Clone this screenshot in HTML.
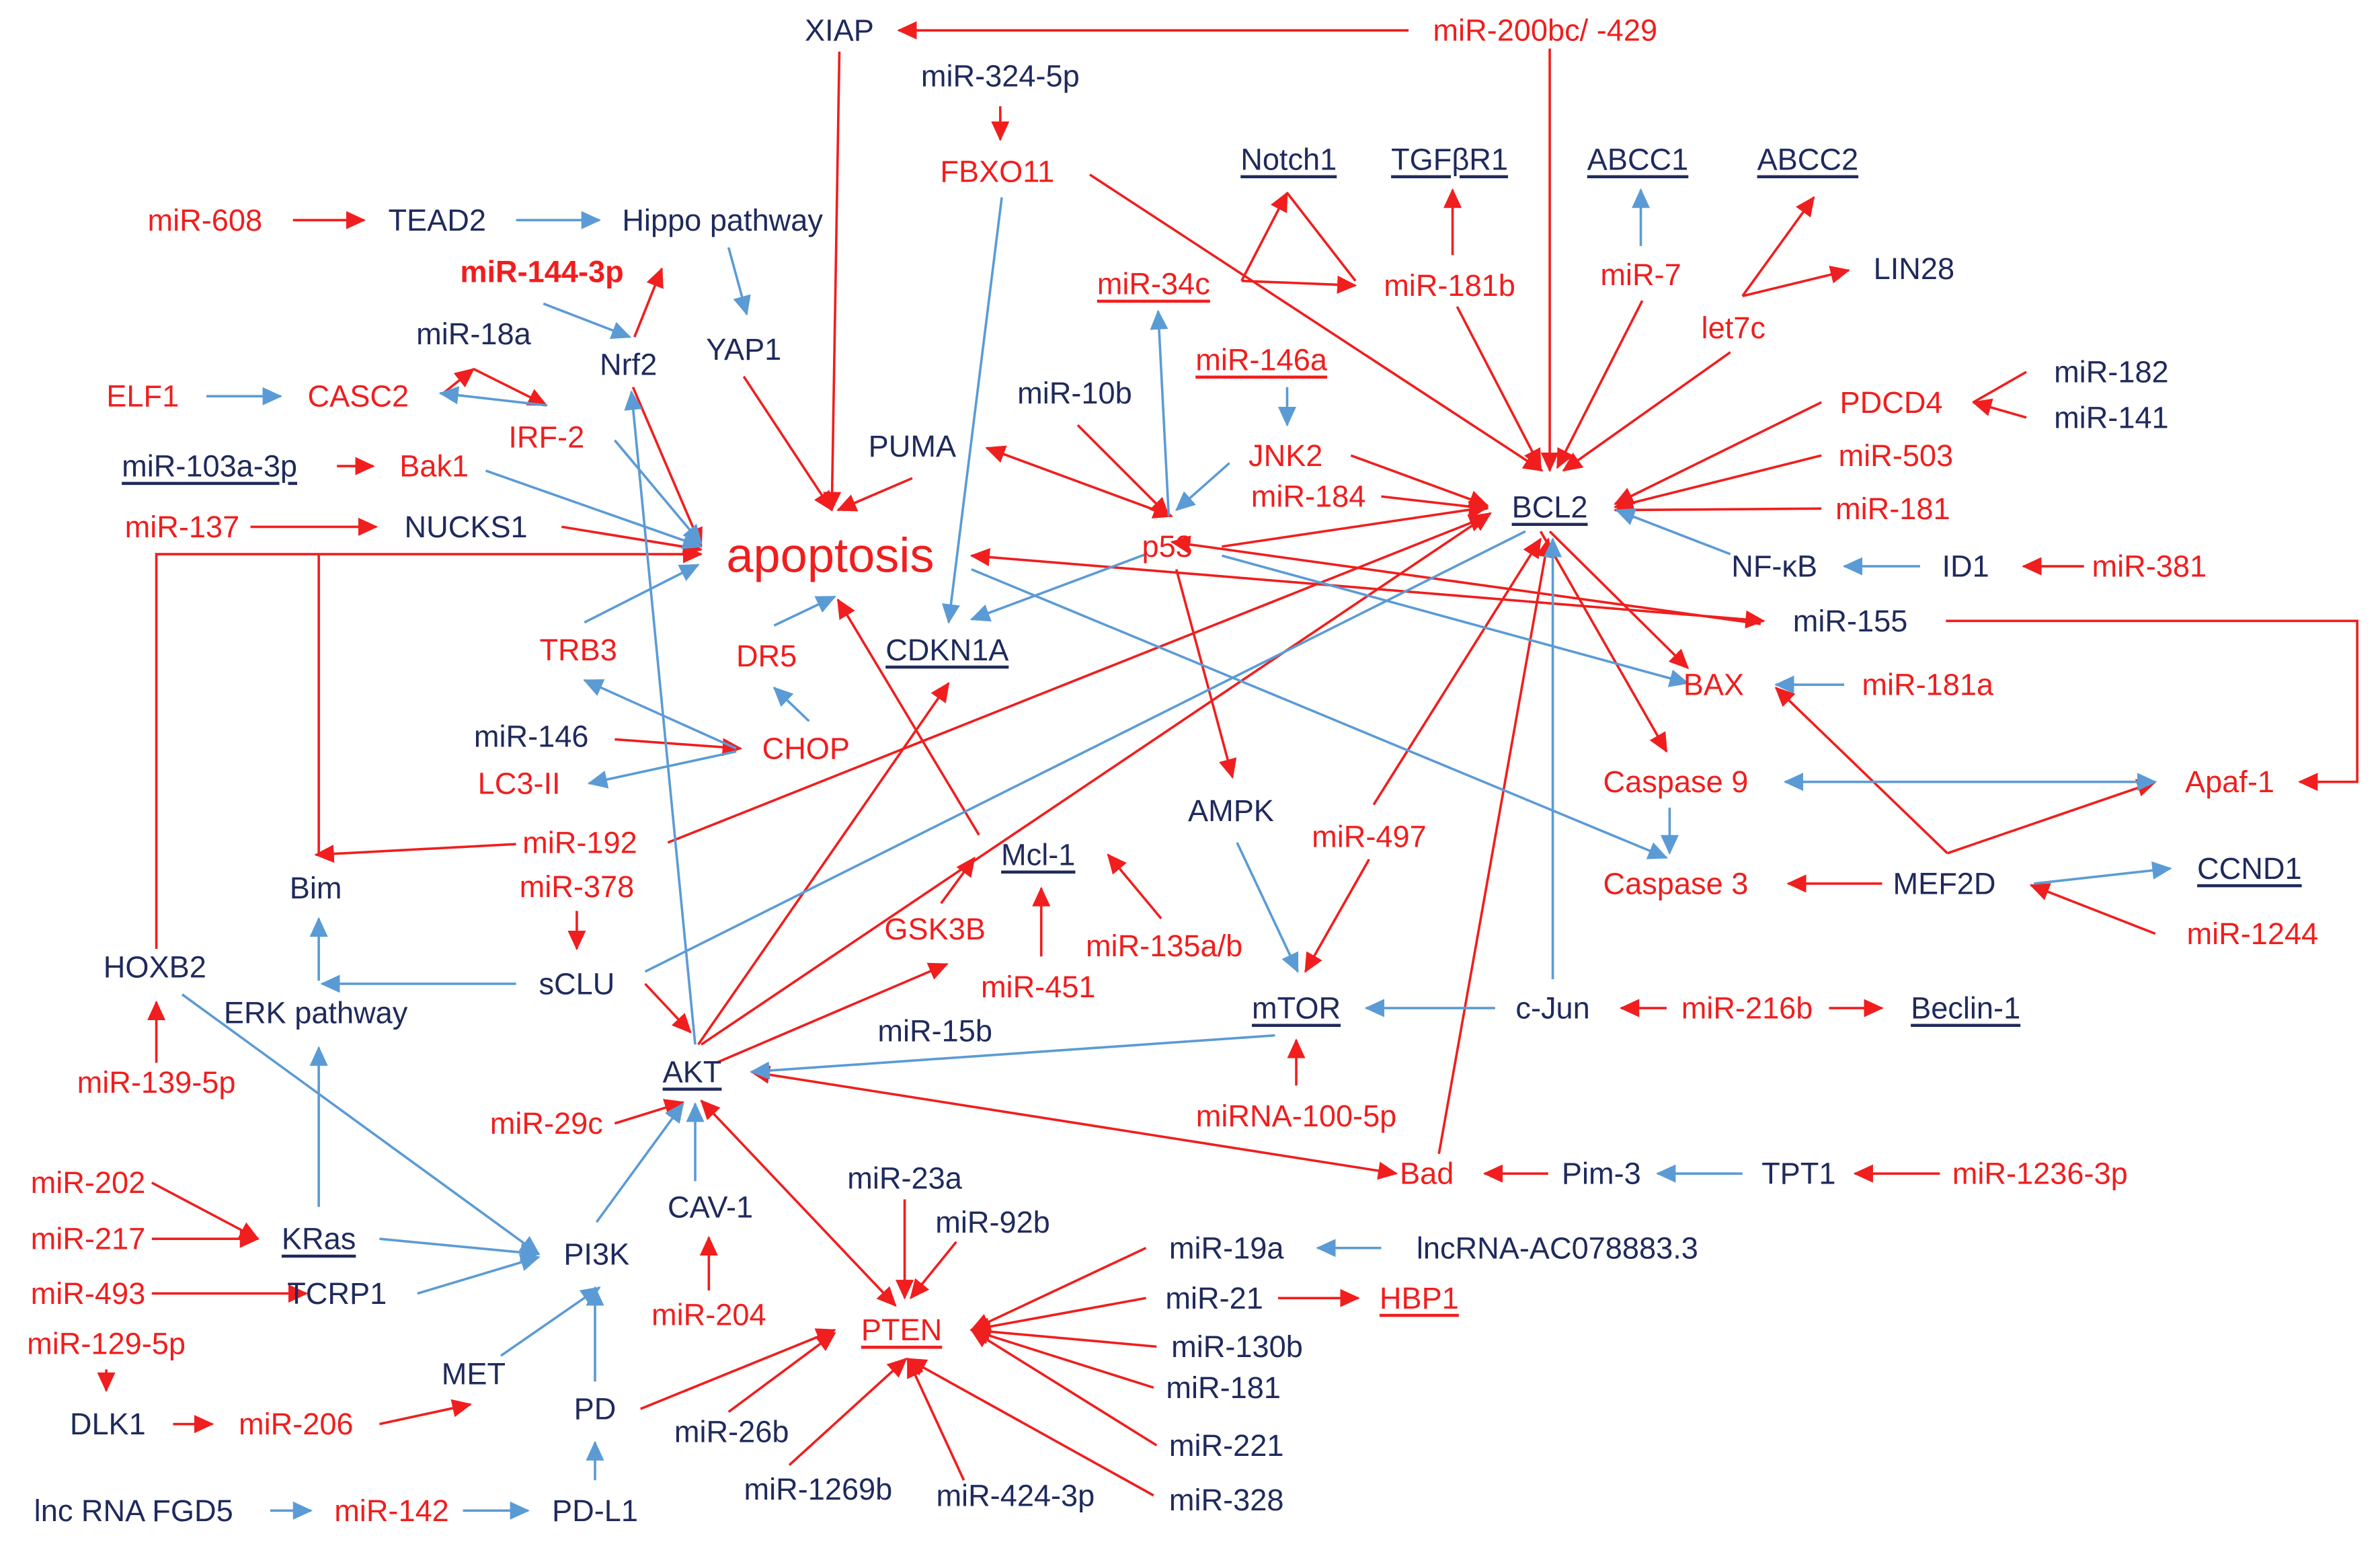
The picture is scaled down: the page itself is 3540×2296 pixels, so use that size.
<!DOCTYPE html>
<html><head><meta charset="utf-8"><style>
html,body{margin:0;padding:0;background:#fff}
svg{display:block}
text{font-family:"Liberation Sans",Arial,sans-serif;font-size:20px;text-anchor:middle;dominant-baseline:central}
.n{fill:#1f2a5c}.r{fill:#f01e1e}.u{text-decoration:underline}
line.R,polyline.R{stroke:#f01e1e;stroke-width:1.6;fill:none;marker-end:url(#mr)}
line.B,polyline.B{stroke:#5b9bd5;stroke-width:1.6;fill:none;marker-end:url(#mb)}
line.RR{stroke:#f01e1e;stroke-width:1.6;marker-end:url(#mr);marker-start:url(#mr)}
line.BB{stroke:#5b9bd5;stroke-width:1.6;marker-end:url(#mb);marker-start:url(#mb)}
line.r0,polyline.r0{stroke:#f01e1e;stroke-width:1.6;fill:none}
line.b0{stroke:#5b9bd5;stroke-width:1.6}
</style></head><body>
<svg width="3540" height="2296" viewBox="0 0 1568 1017" xmlns="http://www.w3.org/2000/svg">
<defs>
<marker id="mr" markerUnits="userSpaceOnUse" markerWidth="14" markerHeight="12" refX="12" refY="6" orient="auto-start-reverse"><path d="M0,0 L13,6 L0,12 z" fill="#f01e1e"/></marker>
<marker id="mb" markerUnits="userSpaceOnUse" markerWidth="14" markerHeight="12" refX="12" refY="6" orient="auto-start-reverse"><path d="M0,0 L13,6 L0,12 z" fill="#5b9bd5"/></marker>
</defs>
<!-- red edges -->
<line class="R" x1="928" y1="20" x2="592" y2="20"/>
<line class="R" x1="553" y1="34" x2="548" y2="336"/>
<line class="R" x1="1021" y1="32" x2="1021" y2="310"/>
<line class="R" x1="659" y1="70" x2="659" y2="92"/>
<line class="R" x1="718" y1="115" x2="1016" y2="310"/>
<line class="R" x1="193" y1="145" x2="240" y2="145"/>
<line class="R" x1="818" y1="185" x2="848" y2="127"/>
<line class="r0" x1="848" y1="127" x2="893" y2="185"/>
<line class="R" x1="818" y1="185" x2="893" y2="188"/>
<line class="R" x1="957" y1="168" x2="957" y2="125"/>
<line class="R" x1="960" y1="202" x2="1015" y2="308"/>
<line class="R" x1="1082" y1="198" x2="1026" y2="308"/>
<line class="R" x1="1148" y1="195" x2="1195" y2="130"/>
<line class="R" x1="1148" y1="195" x2="1218" y2="178"/>
<line class="R" x1="1140" y1="232" x2="1030" y2="310"/>
<line class="R" x1="418" y1="222" x2="436" y2="177"/>
<line class="R" x1="417" y1="255" x2="462" y2="360"/>
<line class="R" x1="292" y1="259" x2="312" y2="243"/>
<line class="R" x1="312" y1="243" x2="360" y2="267"/>
<line class="R" x1="222" y1="307" x2="246" y2="307"/>
<line class="R" x1="165" y1="347" x2="248" y2="347"/>
<line class="R" x1="370" y1="347" x2="462" y2="362"/>
<polyline class="R" points="103,625 103,365 462,365"/>
<polyline class="r0" points="210,365 210,563"/>
<line class="R" x1="340" y1="556" x2="208" y2="563"/>
<line class="R" x1="490" y1="248" x2="548" y2="336"/>
<line class="R" x1="601" y1="315" x2="552" y2="336"/>
<line class="R" x1="710" y1="280" x2="770" y2="340"/>
<line class="RR" x1="650" y1="295" x2="772" y2="340"/>
<line class="R" x1="890" y1="300" x2="980" y2="333"/>
<line class="R" x1="910" y1="327" x2="980" y2="335"/>
<line class="R" x1="1200" y1="265" x2="1064" y2="332"/>
<line class="R" x1="1200" y1="300" x2="1064" y2="334"/>
<line class="R" x1="1200" y1="335" x2="1064" y2="336"/>
<line class="r0" x1="1335" y1="245" x2="1300" y2="265"/>
<line class="R" x1="1335" y1="275" x2="1300" y2="265"/>
<line class="R" x1="1373" y1="373" x2="1333" y2="373"/>
<line class="R" x1="805" y1="360" x2="980" y2="334"/>
<line class="R" x1="775" y1="375" x2="812" y2="512"/>
<line class="RR" x1="1162" y1="409" x2="640" y2="366"/>
<line class="R" x1="1160" y1="411" x2="772" y2="357"/>
<polyline class="R" points="1282,409 1553,409 1553,515 1515,515"/>
<line class="R" x1="1021" y1="350" x2="1112" y2="440"/>
<line class="R" x1="1015" y1="350" x2="1098" y2="495"/>
<line class="R" x1="905" y1="530" x2="1015" y2="355"/>
<line class="R" x1="902" y1="566" x2="860" y2="640"/>
<line class="R" x1="948" y1="760" x2="1020" y2="355"/>
<line class="R" x1="440" y1="555" x2="980" y2="340"/>
<line class="R" x1="460" y1="688" x2="625" y2="450"/>
<line class="R" x1="462" y1="688" x2="982" y2="338"/>
<line class="R" x1="425" y1="648" x2="455" y2="680"/>
<line class="R" x1="472" y1="700" x2="624" y2="635"/>
<line class="R" x1="620" y1="595" x2="642" y2="565"/>
<line class="R" x1="686" y1="630" x2="686" y2="585"/>
<line class="R" x1="765" y1="605" x2="730" y2="563"/>
<line class="R" x1="645" y1="550" x2="552" y2="395"/>
<line class="RR" x1="495" y1="706" x2="920" y2="773"/>
<line class="RR" x1="462" y1="725" x2="590" y2="860"/>
<line class="R" x1="405" y1="740" x2="450" y2="726"/>
<line class="R" x1="467" y1="850" x2="467" y2="815"/>
<line class="R" x1="755" y1="822" x2="640" y2="876"/>
<line class="R" x1="755" y1="855" x2="640" y2="876"/>
<line class="R" x1="762" y1="887" x2="640" y2="876"/>
<line class="R" x1="760" y1="914" x2="640" y2="876"/>
<line class="R" x1="762" y1="952" x2="640" y2="876"/>
<line class="R" x1="760" y1="985" x2="598" y2="895"/>
<line class="R" x1="635" y1="975" x2="598" y2="895"/>
<line class="R" x1="520" y1="965" x2="597" y2="895"/>
<line class="R" x1="480" y1="930" x2="550" y2="878"/>
<line class="R" x1="422" y1="928" x2="550" y2="876"/>
<line class="R" x1="596" y1="790" x2="596" y2="855"/>
<line class="R" x1="630" y1="818" x2="600" y2="855"/>
<line class="R" x1="842" y1="855" x2="895" y2="855"/>
<line class="R" x1="854" y1="715" x2="854" y2="685"/>
<line class="R" x1="1098" y1="664" x2="1068" y2="664"/>
<line class="R" x1="1205" y1="664" x2="1240" y2="664"/>
<line class="R" x1="1020" y1="773" x2="978" y2="773"/>
<line class="R" x1="1278" y1="773" x2="1222" y2="773"/>
<line class="R" x1="1240" y1="582" x2="1178" y2="582"/>
<line class="R" x1="1283" y1="562" x2="1170" y2="453"/>
<line class="R" x1="1283" y1="562" x2="1420" y2="515"/>
<line class="R" x1="1420" y1="615" x2="1338" y2="583"/>
<line class="R" x1="380" y1="600" x2="380" y2="625"/>
<line class="R" x1="103" y1="700" x2="103" y2="660"/>
<line class="R" x1="100" y1="779" x2="170" y2="816"/>
<line class="R" x1="100" y1="816" x2="170" y2="816"/>
<line class="R" x1="100" y1="852" x2="202" y2="852"/>
<line class="R" x1="70" y1="902" x2="70" y2="916"/>
<line class="R" x1="114" y1="938" x2="140" y2="938"/>
<line class="R" x1="250" y1="938" x2="310" y2="925"/>
<line class="R" x1="405" y1="487" x2="488" y2="493"/>
<!-- blue edges -->
<line class="B" x1="1148" y1="773" x2="1092" y2="773"/>
<line class="B" x1="1081" y1="162" x2="1081" y2="125"/>
<line class="B" x1="485" y1="493" x2="385" y2="448"/>
<line class="B" x1="485" y1="495" x2="388" y2="516"/>
<line class="B" x1="533" y1="475" x2="510" y2="453"/>
<line class="B" x1="178" y1="995" x2="205" y2="995"/>
<line class="B" x1="305" y1="995" x2="348" y2="995"/>
<line class="B" x1="340" y1="145" x2="395" y2="145"/>
<line class="B" x1="480" y1="163" x2="492" y2="207"/>
<line class="B" x1="358" y1="200" x2="415" y2="222"/>
<line class="B" x1="360" y1="267" x2="290" y2="259"/>
<line class="B" x1="136" y1="261" x2="185" y2="261"/>
<line class="B" x1="320" y1="310" x2="462" y2="360"/>
<line class="B" x1="405" y1="290" x2="462" y2="358"/>
<line class="B" x1="458" y1="688" x2="416" y2="258"/>
<line class="B" x1="660" y1="130" x2="625" y2="410"/>
<line class="B" x1="770" y1="340" x2="763" y2="205"/>
<line class="B" x1="848" y1="255" x2="848" y2="280"/>
<line class="B" x1="810" y1="305" x2="775" y2="336"/>
<line class="B" x1="755" y1="365" x2="640" y2="408"/>
<line class="B" x1="805" y1="366" x2="1112" y2="450"/>
<line class="B" x1="640" y1="375" x2="1098" y2="565"/>
<line class="B" x1="1140" y1="365" x2="1065" y2="336"/>
<line class="B" x1="1265" y1="373" x2="1215" y2="373"/>
<line class="B" x1="1215" y1="451" x2="1170" y2="451"/>
<line class="B" x1="1100" y1="532" x2="1100" y2="562"/>
<line class="BB" x1="1176" y1="515" x2="1420" y2="515"/>
<line class="B" x1="1340" y1="582" x2="1430" y2="572"/>
<line class="B" x1="1023" y1="645" x2="1023" y2="355"/>
<line class="B" x1="985" y1="664" x2="900" y2="664"/>
<line class="B" x1="815" y1="555" x2="855" y2="640"/>
<line class="B" x1="840" y1="682" x2="495" y2="706"/>
<line class="b0" x1="425" y1="640" x2="1005" y2="350"/>
<line class="B" x1="340" y1="648" x2="212" y2="648"/>
<line class="B" x1="210" y1="646" x2="210" y2="605"/>
<line class="B" x1="210" y1="795" x2="210" y2="690"/>
<line class="B" x1="120" y1="655" x2="355" y2="826"/>
<line class="B" x1="250" y1="816" x2="355" y2="826"/>
<line class="B" x1="275" y1="852" x2="355" y2="828"/>
<line class="B" x1="393" y1="805" x2="450" y2="727"/>
<line class="B" x1="458" y1="778" x2="458" y2="727"/>
<line class="B" x1="330" y1="893" x2="395" y2="848"/>
<line class="B" x1="392" y1="910" x2="392" y2="848"/>
<line class="B" x1="392" y1="975" x2="392" y2="950"/>
<line class="B" x1="910" y1="822" x2="868" y2="822"/>
<line class="B" x1="510" y1="412" x2="550" y2="393"/>
<line class="B" x1="385" y1="410" x2="460" y2="372"/>
<!-- nodes -->
<text class="n" x="553" y="20">XIAP</text>
<text class="r" x="1018" y="20">miR-200bc/ -429</text>
<text class="n" x="659" y="50">miR-324-5p</text>
<text class="r" x="657" y="113">FBXO11</text>
<text class="n u" x="849" y="105">Notch1</text>
<text class="n u" x="955" y="105">TGFβR1</text>
<text class="n u" x="1079" y="105">ABCC1</text>
<text class="n u" x="1191" y="105">ABCC2</text>
<text class="r" x="135" y="145">miR-608</text>
<text class="n" x="288" y="145">TEAD2</text>
<text class="n" x="476" y="145">Hippo pathway</text>
<text class="r" x="357" y="179" font-weight="bold">miR-144-3p</text>
<text class="r u" x="760" y="187">miR-34c</text>
<text class="r" x="955" y="188">miR-181b</text>
<text class="r" x="1081" y="181">miR-7</text>
<text class="n" x="1261" y="177">LIN28</text>
<text class="r" x="1142" y="216">let7c</text>
<text class="n" x="312" y="220">miR-18a</text>
<text class="n" x="414" y="240">Nrf2</text>
<text class="n" x="490" y="230">YAP1</text>
<text class="r u" x="831" y="237">miR-146a</text>
<text class="n" x="708" y="259">miR-10b</text>
<text class="r" x="94" y="261">ELF1</text>
<text class="r" x="236" y="261">CASC2</text>
<text class="r" x="360" y="288">IRF-2</text>
<text class="r" x="1246" y="265">PDCD4</text>
<text class="n" x="1391" y="245">miR-182</text>
<text class="n" x="1391" y="275">miR-141</text>
<text class="n" x="601" y="294">PUMA</text>
<text class="r" x="847" y="300">JNK2</text>
<text class="r" x="1249" y="300">miR-503</text>
<text class="n u" x="138" y="307">miR-103a-3p</text>
<text class="r" x="286" y="307">Bak1</text>
<text class="r" x="862" y="327">miR-184</text>
<text class="n u" x="1021" y="334">BCL2</text>
<text class="r" x="1247" y="335">miR-181</text>
<text class="r" x="120" y="347">miR-137</text>
<text class="n" x="307" y="347">NUCKS1</text>
<text class="r" x="547" y="366" style="font-size:32px">apoptosis</text>
<text class="r" x="769" y="360">p53</text>
<text class="n" x="1169" y="373">NF-κB</text>
<text class="n" x="1295" y="373">ID1</text>
<text class="r" x="1416" y="373">miR-381</text>
<text class="n" x="1219" y="409">miR-155</text>
<text class="r" x="381" y="428">TRB3</text>
<text class="r" x="505" y="432">DR5</text>
<text class="n u" x="624" y="428">CDKN1A</text>
<text class="r" x="1129" y="451">BAX</text>
<text class="r" x="1270" y="451">miR-181a</text>
<text class="n" x="350" y="485">miR-146</text>
<text class="r" x="531" y="493">CHOP</text>
<text class="r" x="342" y="516">LC3-II</text>
<text class="r" x="1104" y="515">Caspase 9</text>
<text class="r" x="1469" y="515">Apaf-1</text>
<text class="n" x="811" y="534">AMPK</text>
<text class="r" x="902" y="551">miR-497</text>
<text class="r" x="382" y="555">miR-192</text>
<text class="n u" x="684" y="563">Mcl-1</text>
<text class="n" x="208" y="585">Bim</text>
<text class="r" x="380" y="584">miR-378</text>
<text class="r" x="616" y="612">GSK3B</text>
<text class="r" x="767" y="623">miR-135a/b</text>
<text class="r" x="1104" y="582">Caspase 3</text>
<text class="n" x="1281" y="582">MEF2D</text>
<text class="n u" x="1482" y="572">CCND1</text>
<text class="r" x="1484" y="615">miR-1244</text>
<text class="n" x="102" y="637">HOXB2</text>
<text class="n" x="380" y="648">sCLU</text>
<text class="r" x="684" y="650">miR-451</text>
<text class="n" x="208" y="667">ERK pathway</text>
<text class="n u" x="854" y="664">mTOR</text>
<text class="n" x="1023" y="664">c-Jun</text>
<text class="r" x="1151" y="664">miR-216b</text>
<text class="n u" x="1295" y="664">Beclin-1</text>
<text class="n" x="616" y="679">miR-15b</text>
<text class="n u" x="456" y="706">AKT</text>
<text class="r" x="103" y="713">miR-139-5p</text>
<text class="r" x="360" y="740">miR-29c</text>
<text class="r" x="854" y="735">miRNA-100-5p</text>
<text class="r" x="58" y="779">miR-202</text>
<text class="n" x="596" y="776">miR-23a</text>
<text class="r" x="940" y="773">Bad</text>
<text class="n" x="1055" y="773">Pim-3</text>
<text class="n" x="1185" y="773">TPT1</text>
<text class="r" x="1344" y="773">miR-1236-3p</text>
<text class="n" x="468" y="795">CAV-1</text>
<text class="n" x="654" y="805">miR-92b</text>
<text class="r" x="58" y="816">miR-217</text>
<text class="n u" x="210" y="816">KRas</text>
<text class="n" x="393" y="826">PI3K</text>
<text class="n" x="808" y="822">miR-19a</text>
<text class="n" x="1026" y="822">lncRNA-AC078883.3</text>
<text class="r" x="58" y="852">miR-493</text>
<text class="n" x="222" y="852">TCRP1</text>
<text class="n" x="800" y="855">miR-21</text>
<text class="r u" x="935" y="855">HBP1</text>
<text class="r" x="467" y="866">miR-204</text>
<text class="r u" x="594" y="876">PTEN</text>
<text class="r" x="70" y="885">miR-129-5p</text>
<text class="n" x="815" y="887">miR-130b</text>
<text class="n" x="312" y="905">MET</text>
<text class="n" x="806" y="914">miR-181</text>
<text class="n" x="71" y="938">DLK1</text>
<text class="r" x="195" y="938">miR-206</text>
<text class="n" x="392" y="928">PD</text>
<text class="n" x="482" y="943">miR-26b</text>
<text class="n" x="808" y="952">miR-221</text>
<text class="n" x="539" y="981">miR-1269b</text>
<text class="n" x="669" y="985">miR-424-3p</text>
<text class="n" x="808" y="988">miR-328</text>
<text class="n" x="88" y="995">lnc RNA FGD5</text>
<text class="r" x="258" y="995">miR-142</text>
<text class="n" x="392" y="995">PD-L1</text>
</svg>
</body></html>
